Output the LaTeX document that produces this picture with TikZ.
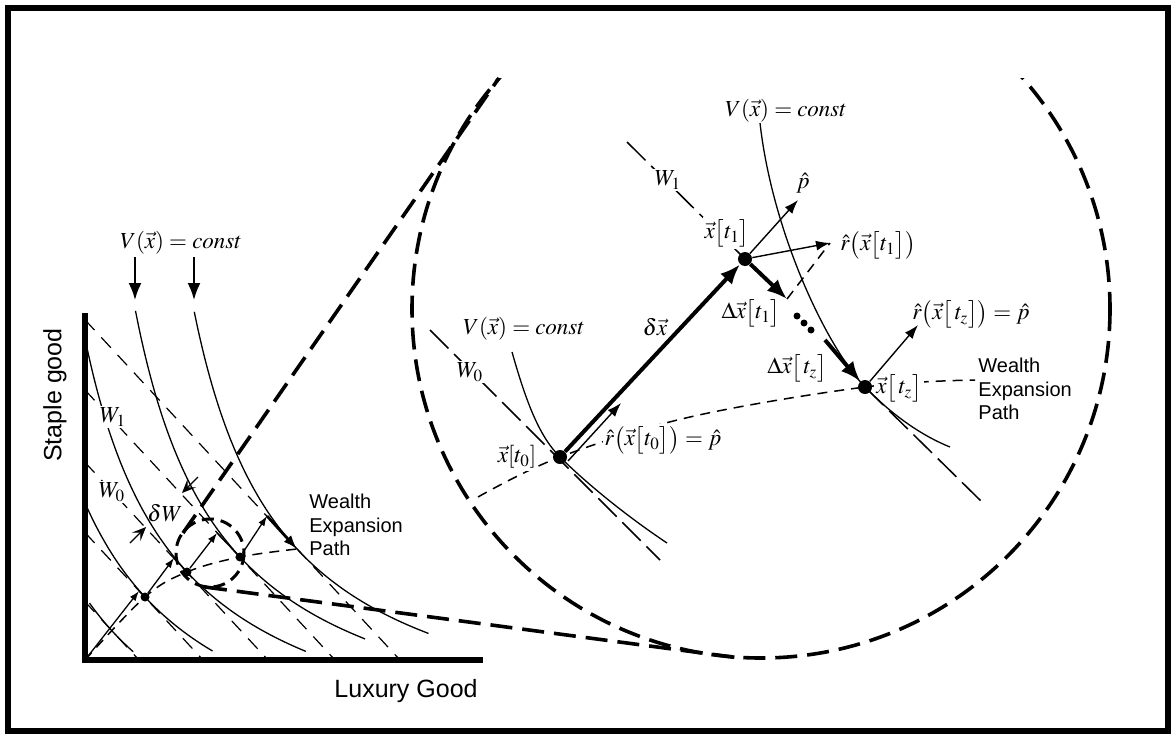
\documentclass[tikz,border=0pt]{standalone}
\usepackage{mathptmx}
\usepackage[no-math]{fontspec}
\setmainfont{Liberation Serif}
\setsansfont{Liberation Sans}
\usetikzlibrary{arrows.meta,positioning}

\begin{document}
\begin{tikzpicture}[x=0.5pt, y=-0.5pt,
    icurve/.style={line width=0.65pt},
    budget/.style={line width=0.6pt, dash pattern=on 7pt off 5pt},
    wline/.style={line width=0.75pt, dash pattern=on 13pt off 4pt},
    expath/.style={line width=0.75pt, dash pattern=on 5pt off 3.5pt},
    zoomline/.style={line width=1.8pt, dash pattern=on 11pt off 5pt},
    zoomring/.style={line width=1.5pt, dash pattern=on 6pt off 3.5pt},
    bigdot/.style={circle, fill, inner sep=0pt, minimum size=7pt},
    smalldot/.style={circle, fill, inner sep=0pt, minimum size=4.5pt},
    tinydot/.style={circle, fill, inner sep=0pt, minimum size=3.5pt},
    mathlab/.style={font=\fontsize{11.5}{13}\selectfont, inner sep=1pt},
    whitelab/.style={mathlab, fill=white},
    sanslab/.style={font=\fontsize{10}{11.75}\selectfont\sffamily, align=left, inner sep=0pt},
    axislab/.style={font=\fontsize{12.5}{14}\selectfont\sffamily, inner sep=0pt},
    parrow/.style={line width=0.7pt, -{Latex[length=7pt,width=5pt]}},
    zigarrow/.style={line width=0.65pt, -{Latex[length=5pt,width=3.5pt]}},
    barrow/.style={line width=2pt, -{Latex[length=10pt,width=8pt]}},
    downarrow/.style={line width=1pt, -{Latex[length=8.5pt,width=6.5pt]}},
    gaparrow/.style={line width=0.65pt, -{Stealth[length=7pt,width=6pt,inset=3pt]}}]
  \useasboundingbox (0,0) rectangle (1176,739);
  % Frame
  \draw[line width=3pt] (8,8) rectangle (1168,731);

  % Zoom circles and tangents
  \coordinate (zc) at (210,553);
  \coordinate (bc) at (761,309);
  \coordinate (tanA) at (183,533);
  \coordinate (tanB) at (499,78);
  \coordinate (tanC) at (205,587);
  \coordinate (tanD) at (740,658);
  \draw[zoomring] (zc) circle[radius=34];
  \begin{scope}
    \clip (0,78) rectangle (1176,739);
    \draw[zoomline] (bc) circle[radius=349];
  \end{scope}
  \draw[zoomline] (tanA) -- (tanB);
  \draw[zoomline] (tanC) -- (tanD);

  % Axes
  \coordinate (O) at (85,660);
  \draw[line width=2.6pt] (85,313) -- (O) -- (483,660);
  \node[axislab, rotate=90] (staple) at (55,395) {Staple good};
  \node[axislab, anchor=base east] (luxury) at (478,697) {Luxury Good};

  % Budget lines
  \foreach \w in {54,118,183,250,315}
    \draw[budget] (85,{660-1.08*\w}) -- ({85+\w},660);
  % Indifference curves
  \foreach \ua/\vb/\ts/\te in {-165/-180.4/-0.13/0.1, -133/-145.4/-0.36/0.3,
      -91/-120.4/-0.74/0.48, -38/-105.4/-0.78/0.5, 19/-97.4/-0.76/0.52}
    \draw[icurve] plot[domain=\ts:\te, samples=40, smooth]
      ({85+(\ua)+193*exp(\x)}, {660-(\vb)-208.4*exp(-\x)});
  % Expansion path
  \draw[expath] plot[smooth, tension=0.6] coordinates {(85,660) (145,597) (187,572) (240,557) (297,549)};

  % W labels
  \node[whitelab] (wone) at (113,417) {$W_1$};
  \node[whitelab] (wzero) at (112,492) {$W_0$};
  \node[mathlab] (dw) at (165,513) {$\delta W$};
  \coordinate (gapAt) at (198,477);
  \coordinate (gapA) at (182,493);
  \coordinate (gapBt) at (130,543);
  \coordinate (gapB) at (146,527);
  \draw[gaparrow] (gapAt) -- (gapA);
  \draw[gaparrow] (gapBt) -- (gapB);

  % Utility label
  \node[mathlab] (vleft) at (181,243) {$V(\vec{x})=const$};
  \coordinate (top3) at (135,300);
  \coordinate (top4) at (194,300);
  \draw[downarrow] (vleft.south -| top3) -- (top3);
  \draw[downarrow] (vleft.south -| top4) -- (top4);

  % Steps along the path
  \node[smalldot] (d1) at (145,597) {};
  \node[smalldot] (d2) at (187,572) {};
  \node[smalldot] (d3) at (240,557) {};
  \coordinate (d4) at (297,549);
  \coordinate (q0) at (139,591);
  \coordinate (q1) at (174,558);
  \coordinate (q2) at (217,533);
  \coordinate (q3) at (267,516);
  \draw[zigarrow] (O) -- (q0);
  \draw[icurve] (q0) -- (d1);
  \draw[zigarrow] (d1) -- (q1);
  \draw[icurve] (q1) -- (d2);
  \draw[zigarrow] (d2) -- (q2);
  \draw[icurve] (q2) -- (d3);
  \draw[zigarrow] (d3) -- (q3);
  \draw[line width=1.4pt, -{Latex[length=7pt,width=5pt]}] (q3) -- (d4);
  \node[sanslab, anchor=north west] (wepl) at (309,494) {Wealth\\Expansion\\Path};

  % Zoomed view: expansion path
  \draw[expath] plot[smooth, tension=0.6] coordinates {(478,497) (560,457) (690,417) (865,387) (975,380)};
  \node[whitelab] (rzerolab) at (663,440) {$\hat{r}\bigl(\vec{x}\bigl[t_0\bigr]\bigr)=\hat{p}$};
  \node[whitelab, anchor=west] (xzlab) at (874,388) {$\vec{x}\bigl[\,t_z\bigr]$};

  % Zoomed view: budget lines and utility curves
  \draw[wline] (430,330) -- (660,560);
  \draw[wline] (627,142) -- (745,259);
  \draw[wline] (865,387) -- (983,503);
  \draw[icurve] (512,352) .. controls (527,405) and (540,437) .. (560,457)
    .. controls (585,482) and (625,515) .. (667,543);
  \draw[icurve] (760,123) .. controls (772,230) and (825,345) .. (865,387)
    .. controls (895,418) and (925,437) .. (950,447);

  % Zoomed view: labels
  \node[mathlab] (vtop) at (786,111) {$V(\vec{x})=const$};
  \node[mathlab] (vlow) at (524,329) {$V(\vec{x})=const$};
  \node[whitelab] (wonez) at (668,180) {$W_1$};
  \node[whitelab] (wzeroz) at (470,372) {$W_0$};
  \node[mathlab] (dxlab) at (655,327) {$\delta\vec{x}$};
  \node[whitelab] (xzerolab) at (517,457) {$\vec{x}[t_0]$};
  \node[whitelab] (xonelab) at (727,233) {$\vec{x}\bigl[t_1\bigr]$};
  \node[mathlab] (plab) at (803,183) {$\hat{p}$};
  \node[mathlab, anchor=west] (ronelab) at (838,245) {$\hat{r}\bigl(\vec{x}\bigl[t_1\bigr]\bigr)$};
  \node[mathlab] (dxonelab) at (751,313) {$\Delta\vec{x}\bigl[t_1\bigr]$};
  \node[mathlab] (dxzlab) at (797,368) {$\Delta\vec{x}\bigl[\,t_z\bigr]$};
  \node[mathlab, anchor=west] (rzlab) at (910,314) {$\hat{r}\bigl(\vec{x}\bigl[\,t_z\bigr]\bigr)=\hat{p}$};
  \node[sanslab, anchor=north west] (wepr) at (978,358) {Wealth\\Expansion\\Path};

  % Zoomed view: points and vectors
  \node[bigdot] (t0) at (560,457) {};
  \node[bigdot] (t1) at (745,259) {};
  \node[bigdot] (tz) at (865,387) {};
  \coordinate (rzerofoot) at (568,461);
  \coordinate (rzerotip) at (621,403);
  \coordinate (ptip) at (798,200);
  \coordinate (ronetip) at (830,243);
  \coordinate (dxonetip) at (787,299);
  \coordinate (dxzfoot) at (825,340);
  \coordinate (rztip) at (918,325);
  \draw[barrow] (t0) -- (t1);
  \draw[parrow] (rzerofoot) -- (rzerotip);
  \draw[parrow] (t1) -- (ptip);
  \draw[parrow] (t1) -- (ronetip);
  \draw[barrow] (t1) -- (dxonetip);
  \draw[expath] (dxonetip) -- (ronetip);
  \draw[barrow] (dxzfoot) -- (tz);
  \draw[parrow] (tz) -- (rztip);
  \foreach \k in {0,1,2}
    \node[tinydot] (ell\k) at ({797+7*\k},{316+7*\k}) {};
\end{tikzpicture}
\end{document}
